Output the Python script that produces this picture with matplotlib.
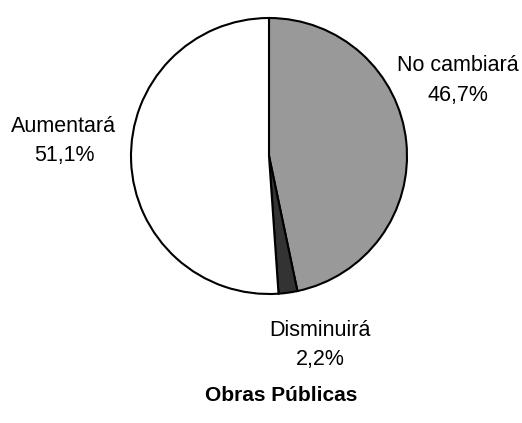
import matplotlib.pyplot as plt

labels = ["No cambiará", "Disminuirá", "Aumentará"]
values = [46.7, 2.2, 51.1]
value_text = ["46,7%", "2,2%", "51,1%"]
colors = ["#999999", "#333333", "#ffffff"]
title = "Obras Públicas"

plt.rcParams["font.family"] = ["Liberation Sans", "DejaVu Sans"]

W, H = 522, 423
cx, cy, r = 269, 156, 138

fig = plt.figure(figsize=(W / 100, H / 100), dpi=100)
ax = fig.add_axes([(cx - r) / W, (H - cy - r) / H, 2 * r / W, 2 * r / H])
ax.pie(
    values,
    colors=colors,
    startangle=90,
    counterclock=False,
    wedgeprops={"edgecolor": "black", "linewidth": 1.5},
)
ax.set_xlim(-1, 1)
ax.set_ylim(-1, 1)

# label positions in pie radius units
pos = [(1.37, 0.55), (0.37, -1.37), (-1.486, 0.109)]
for lab, txt, (x, y) in zip(labels, value_text, pos):
    ax.text(x, y, f"{lab}\n{txt}", ha="center", va="center", fontsize=15.5,
            linespacing=1.55, clip_on=False)

fig.text(281.5 / W, 1 - 395 / H, title, ha="center", va="center",
         fontsize=15, fontweight="bold")

fig.savefig("out.png", dpi=100)
